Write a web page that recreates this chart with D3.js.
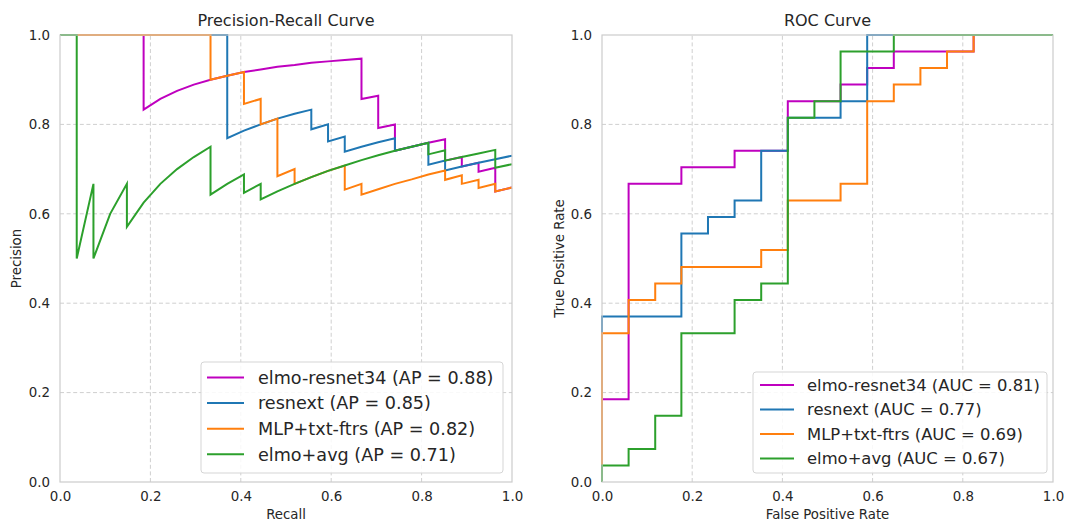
<!DOCTYPE html>
<html>
<head>
<meta charset="utf-8">
<script src="https://cdn.jsdelivr.net/npm/d3@7"></script>
<style>
  body { margin: 0; background: #fff; }
  svg text { font-family: "DejaVu Sans", sans-serif; fill: #262626; }
</style>
</head>
<body>
<svg id="fig" width="1065" height="521"></svg>
<script>
// series names + colours (legend order = draw order)
var names = ["elmo-resnet34", "resnext", "MLP+txt-ftrs", "elmo+avg"];
var colors = ["#bf00bf", "#1f77b4", "#ff7f0e", "#2ca02c"];
var apScores = ["0.88", "0.85", "0.82", "0.71"];
var aucScores = ["0.81", "0.77", "0.69", "0.67"];
var ticks = [0, 0.2, 0.4, 0.6, 0.8, 1.0];

// precision-recall points [recall, precision]
var prElmoResnet = [[0,1],[0.185,1],[0.185,0.833],[0.222,0.857],[0.259,0.875],[0.296,0.889],[0.333,0.900],[0.370,0.909],[0.407,0.917],[0.444,0.923],[0.481,0.929],[0.519,0.933],[0.556,0.938],[0.593,0.941],[0.630,0.944],[0.667,0.947],[0.667,0.857],[0.704,0.864],[0.704,0.792],[0.741,0.800],[0.741,0.741],[0.778,0.750],[0.815,0.759],[0.852,0.767],[0.852,0.719],[0.889,0.727],[0.889,0.706],[0.926,0.714],[0.926,0.694],[0.963,0.703],[0.963,0.650],[1.0,0.659]];
var prResnext = [[0,1],[0.370,1],[0.370,0.769],[0.407,0.786],[0.444,0.800],[0.481,0.813],[0.519,0.824],[0.556,0.833],[0.556,0.789],[0.593,0.800],[0.593,0.762],[0.630,0.773],[0.630,0.739],[0.667,0.750],[0.704,0.760],[0.741,0.769],[0.741,0.741],[0.778,0.750],[0.815,0.759],[0.815,0.710],[0.852,0.719],[0.852,0.697],[0.889,0.706],[0.926,0.714],[0.963,0.722],[1.0,0.730]];
var prMlp = [[0,1],[0.333,1],[0.333,0.900],[0.370,0.909],[0.407,0.917],[0.407,0.846],[0.444,0.857],[0.444,0.800],[0.481,0.813],[0.481,0.684],[0.519,0.700],[0.519,0.667],[0.556,0.682],[0.593,0.696],[0.630,0.708],[0.630,0.654],[0.667,0.667],[0.667,0.643],[0.704,0.655],[0.741,0.667],[0.778,0.677],[0.815,0.688],[0.852,0.697],[0.852,0.676],[0.889,0.686],[0.889,0.667],[0.926,0.676],[0.926,0.658],[0.963,0.667],[0.963,0.650],[1.0,0.659]];
var prElmoAvg = [[0,1],[0.037,1],[0.037,0.500],[0.074,0.667],[0.074,0.500],[0.111,0.600],[0.148,0.667],[0.148,0.571],[0.185,0.625],[0.222,0.667],[0.259,0.700],[0.296,0.727],[0.333,0.750],[0.333,0.643],[0.370,0.667],[0.407,0.688],[0.407,0.647],[0.444,0.667],[0.444,0.632],[0.481,0.650],[0.519,0.667],[0.556,0.682],[0.593,0.696],[0.630,0.708],[0.667,0.720],[0.704,0.731],[0.741,0.741],[0.778,0.750],[0.815,0.759],[0.815,0.733],[0.852,0.742],[0.852,0.719],[0.889,0.727],[0.926,0.735],[0.963,0.743],[0.963,0.703],[1.0,0.711]];

// roc points [fpr, tpr]
var rocElmoResnet = [[0,0],[0,0.185],[0.059,0.185],[0.059,0.667],[0.176,0.667],[0.176,0.704],[0.294,0.704],[0.294,0.741],[0.412,0.741],[0.412,0.852],[0.529,0.852],[0.529,0.889],[0.588,0.889],[0.588,0.926],[0.647,0.926],[0.647,0.963],[0.824,0.963],[0.824,1],[1,1]];
var rocResnext = [[0,0],[0,0.370],[0.176,0.370],[0.176,0.556],[0.235,0.556],[0.235,0.593],[0.294,0.593],[0.294,0.630],[0.353,0.630],[0.353,0.741],[0.412,0.741],[0.412,0.815],[0.529,0.815],[0.529,0.852],[0.588,0.852],[0.588,1],[1,1]];
var rocMlp = [[0,0],[0,0.333],[0.059,0.333],[0.059,0.407],[0.118,0.407],[0.118,0.444],[0.176,0.444],[0.176,0.481],[0.353,0.481],[0.353,0.519],[0.412,0.519],[0.412,0.630],[0.529,0.630],[0.529,0.667],[0.588,0.667],[0.588,0.852],[0.647,0.852],[0.647,0.889],[0.706,0.889],[0.706,0.926],[0.765,0.926],[0.765,0.963],[0.824,0.963],[0.824,1],[1,1]];
var rocElmoAvg = [[0,0],[0,0.037],[0.059,0.037],[0.059,0.074],[0.118,0.074],[0.118,0.148],[0.176,0.148],[0.176,0.333],[0.294,0.333],[0.294,0.407],[0.353,0.407],[0.353,0.444],[0.412,0.444],[0.412,0.815],[0.471,0.815],[0.471,0.852],[0.529,0.852],[0.529,0.963],[0.647,0.963],[0.647,1],[1,1]];

var svg = d3.select("#fig");

function drawPanel(opt) {
  var x = d3.scaleLinear().domain([0, 1]).range([opt.left, opt.right]);
  var y = d3.scaleLinear().domain([0, 1]).range([482, 35]);
  var g = svg.append("g");

  // grid
  g.selectAll(".gx").data(ticks.slice(1, -1)).enter().append("line")
    .attr("x1", d => x(d)).attr("x2", d => x(d)).attr("y1", y(0)).attr("y2", y(1))
    .attr("stroke", "#cfcfcf").attr("stroke-width", 1).attr("stroke-dasharray", "4,2.6");
  g.selectAll(".gy").data(ticks.slice(1, -1)).enter().append("line")
    .attr("y1", d => y(d)).attr("y2", d => y(d)).attr("x1", x(0)).attr("x2", x(1))
    .attr("stroke", "#cfcfcf").attr("stroke-width", 1).attr("stroke-dasharray", "4,2.6");

  // axes (no tick marks, just labels)
  var xa = g.append("g").attr("transform", "translate(0," + y(0) + ")")
    .call(d3.axisBottom(x).tickValues(ticks).tickFormat(d3.format(".1f")).tickSize(0).tickPadding(9.5));
  var ya = g.append("g").attr("transform", "translate(" + x(0) + ",0)")
    .call(d3.axisLeft(y).tickValues(ticks).tickFormat(d3.format(".1f")).tickSize(0).tickPadding(10));
  [xa, ya].forEach(function(a) {
    a.select(".domain").remove();
    a.selectAll("text").attr("font-size", 13.4).attr("fill", "#262626").style("font-family", "DejaVu Sans");
  });

  // curves
  var line = d3.line().x(d => x(d[0])).y(d => y(d[1]));
  opt.series.forEach(function(s, i) {
    g.append("path").datum(s).attr("d", line)
      .attr("fill", "none").attr("stroke", colors[i]).attr("stroke-width", 2)
      .attr("stroke-linejoin", "miter");
  });

  // frame
  g.append("rect").attr("x", x(0)).attr("y", y(1)).attr("width", x(1) - x(0)).attr("height", y(0) - y(1))
    .attr("fill", "none").attr("stroke", "#cccccc").attr("stroke-width", 1.2);

  g.append("text").attr("x", (x(0) + x(1)) / 2).attr("y", 26).attr("text-anchor", "middle")
    .attr("font-size", 16).text(opt.title);
  g.append("text").attr("x", (x(0) + x(1)) / 2).attr("y", 519).attr("text-anchor", "middle")
    .attr("font-size", 13.3).text(opt.xlabel);
  g.append("text").attr("transform", "translate(" + opt.ylabelX + "," + y(0.5) + ") rotate(-90)")
    .attr("text-anchor", "middle").attr("font-size", 13.3).text(opt.ylabel);

  // legend
  var lg = g.append("g").attr("transform", "translate(" + opt.legX + "," + opt.legY + ")");
  lg.append("rect").attr("width", opt.legW).attr("height", opt.legH).attr("rx", 3)
    .attr("fill", "#fff").attr("fill-opacity", 0.85).attr("stroke", "#d5d5d5").attr("stroke-width", 1);
  names.forEach(function(n, i) {
    var cy = opt.legRow0 + i * opt.legStep;
    lg.append("line").attr("x1", opt.lineX0).attr("x2", opt.lineX1).attr("y1", cy).attr("y2", cy)
      .attr("stroke", colors[i]).attr("stroke-width", 2);
    lg.append("text").attr("x", opt.textX).attr("y", cy).attr("dy", "0.36em")
      .attr("font-size", opt.legFont).text(n + " (" + opt.scoreLabel + " = " + opt.scores[i] + ")");
  });
}

drawPanel({
  left: 60, right: 512, title: "Precision-Recall Curve", xlabel: "Recall", ylabel: "Precision", ylabelX: 20.5,
  series: [prElmoResnet, prResnext, prMlp, prElmoAvg],
  legX: 201, legY: 362, legW: 302, legH: 111, legRow0: 15.5, legStep: 25.6,
  lineX0: 6, lineX1: 43, textX: 57, legFont: 17.6, scoreLabel: "AP", scores: apScores
});
drawPanel({
  left: 602, right: 1053, title: "ROC Curve", xlabel: "False Positive Rate", ylabel: "True Positive Rate", ylabelX: 563.5,
  series: [rocElmoResnet, rocResnext, rocMlp, rocElmoAvg],
  legX: 753, legY: 372, legW: 294, legH: 101, legRow0: 13, legStep: 24.5,
  lineX0: 7, lineX1: 41, textX: 54, legFont: 16.4, scoreLabel: "AUC", scores: aucScores
});
</script>
</body>
</html>
